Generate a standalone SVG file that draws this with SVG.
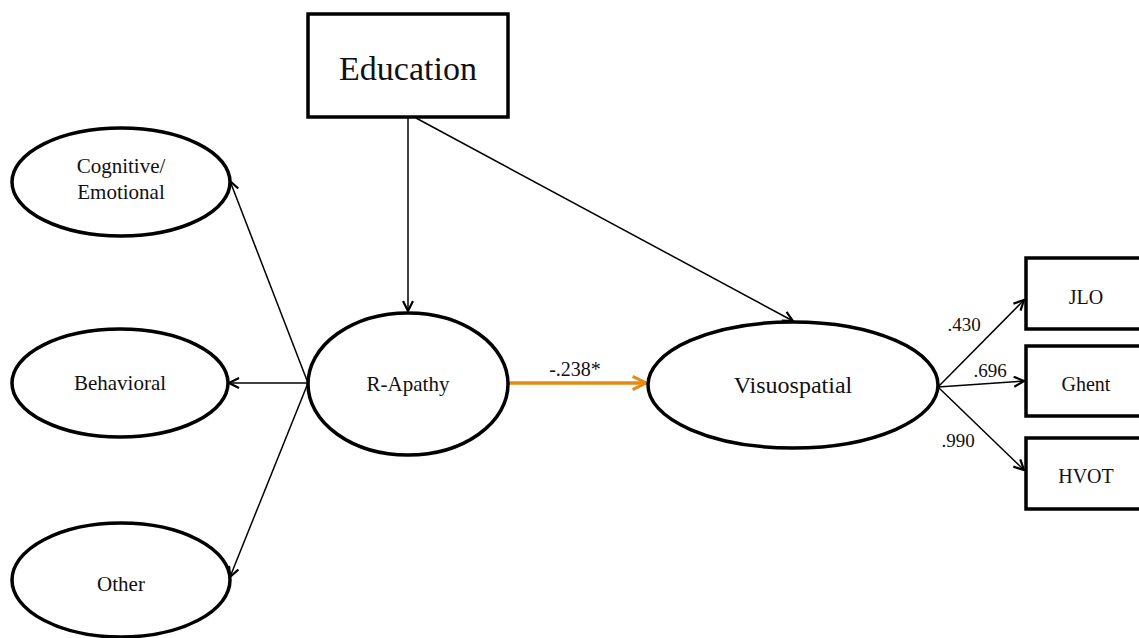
<svg xmlns="http://www.w3.org/2000/svg" width="1139" height="638" viewBox="0 0 1139 638">
<defs>
<style>
.n{fill:#fff;stroke:#000;stroke-width:3.5}
text{font-family:'Liberation Serif','Times New Roman',serif;fill:#111;text-anchor:middle}
.c{stroke:#000;stroke-width:1.5;fill:none;marker-end:url(#a)}
</style>
<marker id="a" viewBox="0 0 12 12" refX="11" refY="6" markerWidth="12" markerHeight="12" markerUnits="userSpaceOnUse" orient="auto">
<path d="M1,1 L11,6 L1,11" fill="none" stroke="#000" stroke-width="2.2"/>
</marker>
<marker id="ao" viewBox="0 0 12 12" refX="11" refY="6" markerWidth="16" markerHeight="16" markerUnits="userSpaceOnUse" orient="auto">
<path d="M1,1 L11,6 L1,11" fill="none" stroke="#E8890F" stroke-width="2.2"/>
</marker>
</defs>
<rect width="1139" height="638" fill="#fff"/>
<g id="connectors">
<line class="c" x1="408" y1="118" x2="408" y2="311"/>
<line class="c" x1="416" y1="118" x2="793" y2="321"/>
<line class="c" x1="308" y1="383" x2="230" y2="181"/>
<line class="c" x1="308" y1="383" x2="229" y2="383"/>
<line class="c" x1="308" y1="383" x2="230" y2="577"/>
<line x1="508" y1="383" x2="646" y2="383" stroke="#E8890F" stroke-width="3.5" marker-end="url(#ao)"/>
<line class="c" x1="938" y1="387" x2="1024" y2="300"/>
<line class="c" x1="938" y1="387" x2="1024" y2="381"/>
<line class="c" x1="938" y1="387" x2="1024" y2="470"/>
<text font-family="Liberation Serif" x="575" y="376" font-size="20">-.238*</text>
<text font-family="Liberation Serif" x="964" y="331" font-size="19">.430</text>
<text font-family="Liberation Serif" x="990" y="377" font-size="19">.696</text>
<text font-family="Liberation Serif" x="958" y="447" font-size="19">.990</text>
</g>
<g id="education">
<rect class="n" x="308" y="14" width="200" height="103"/>
<text font-family="Liberation Serif" x="408" y="80" font-size="34">Education</text>
</g>
<g id="cognitive">
<ellipse class="n" cx="121" cy="182" rx="109" ry="54"/>
<text font-family="Liberation Serif" x="121" y="173" font-size="21">Cognitive/</text>
<text font-family="Liberation Serif" x="121" y="199" font-size="21">Emotional</text>
</g>
<g id="behavioral">
<ellipse class="n" cx="120" cy="383" rx="108" ry="54"/>
<text font-family="Liberation Serif" x="120" y="390" font-size="21">Behavioral</text>
</g>
<g id="other">
<ellipse class="n" cx="121" cy="580" rx="109" ry="57"/>
<text font-family="Liberation Serif" x="121" y="591" font-size="21">Other</text>
</g>
<g id="rapathy">
<ellipse class="n" cx="408" cy="384" rx="100" ry="71"/>
<text font-family="Liberation Serif" x="408" y="391" font-size="21">R-Apathy</text>
</g>
<g id="visuospatial">
<ellipse class="n" cx="793" cy="385" rx="145" ry="63"/>
<text font-family="Liberation Serif" x="793" y="393" font-size="24">Visuospatial</text>
</g>
<g id="jlo">
<rect class="n" x="1026" y="258" width="130" height="71"/>
<text font-family="Liberation Serif" x="1086" y="304" font-size="20">JLO</text>
</g>
<g id="ghent">
<rect class="n" x="1026" y="346" width="130" height="70"/>
<text font-family="Liberation Serif" x="1086" y="391" font-size="20">Ghent</text>
</g>
<g id="hvot">
<rect class="n" x="1026" y="438" width="130" height="71"/>
<text font-family="Liberation Serif" x="1086" y="483" font-size="20">HVOT</text>
</g>
</svg>
